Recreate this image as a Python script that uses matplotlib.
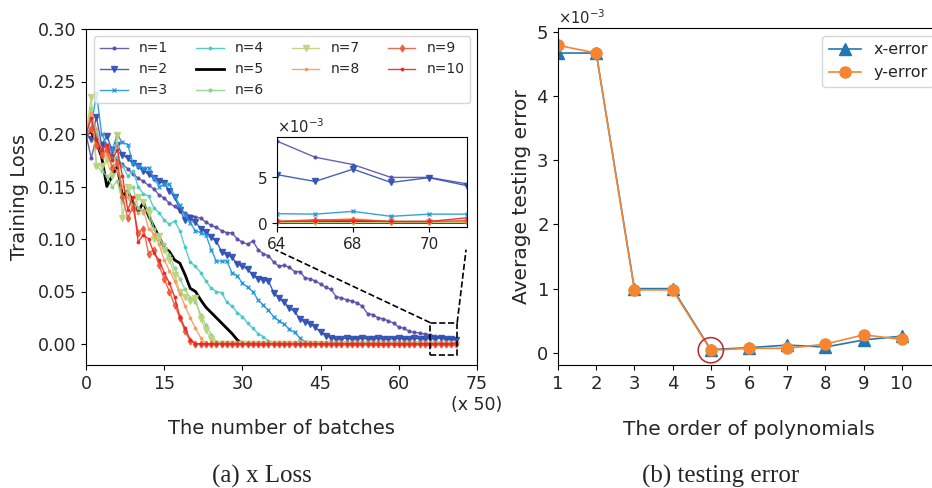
import numpy as np
import matplotlib
matplotlib.use('Agg')
import matplotlib.pyplot as plt
from matplotlib.patches import Rectangle
from matplotlib.transforms import blended_transform_factory

# ---- (a) training loss, one point per 50 batches ----
loss_n1 = [0.200, 0.177, 0.197, 0.190, 0.185, 0.180, 0.175, 0.171, 0.167, 0.162, 0.158, 0.155,
           0.151, 0.148, 0.142, 0.139, 0.134, 0.131, 0.127, 0.125, 0.122, 0.121, 0.120, 0.116,
           0.113, 0.111, 0.108, 0.106, 0.106, 0.100, 0.097, 0.095, 0.098, 0.090, 0.086, 0.084,
           0.078, 0.074, 0.075, 0.073, 0.069, 0.069, 0.063, 0.062, 0.060, 0.057, 0.054, 0.052,
           0.045, 0.044, 0.042, 0.041, 0.039, 0.036, 0.029, 0.028, 0.025, 0.024, 0.022, 0.020,
           0.016, 0.015, 0.012, 0.011, 0.0105, 0.0095, 0.00895, 0.0072, 0.0064, 0.0050, 0.0050, 0.0043]
loss_n2 = [0.200, 0.195, 0.216, 0.190, 0.198, 0.185, 0.190, 0.180, 0.177, 0.172, 0.170, 0.165,
           0.162, 0.158, 0.155, 0.153, 0.146, 0.140, 0.128, 0.118, 0.120, 0.116, 0.110, 0.107,
           0.102, 0.098, 0.088, 0.085, 0.083, 0.076, 0.074, 0.071, 0.066, 0.062, 0.061, 0.060,
           0.049, 0.044, 0.040, 0.034, 0.031, 0.024, 0.021, 0.019, 0.016, 0.011, 0.008, 0.006,
           0.0045, 0.0050, 0.0055, 0.0048, 0.0052, 0.0056, 0.0047, 0.0050, 0.0053, 0.0049, 0.0045, 0.0052,
           0.0055, 0.0050, 0.0048, 0.0054, 0.0050, 0.0049, 0.0053, 0.00456, 0.0059, 0.00445, 0.00497, 0.0041]
loss_n3 = [0.200, 0.205, 0.239, 0.200, 0.190, 0.185, 0.199, 0.192, 0.190, 0.172, 0.170, 0.168,
           0.168, 0.158, 0.150, 0.152, 0.152, 0.141, 0.132, 0.123, 0.115, 0.108, 0.106, 0.104,
           0.090, 0.079, 0.079, 0.079, 0.068, 0.065, 0.058, 0.054, 0.050, 0.042, 0.037, 0.032,
           0.026, 0.022, 0.019, 0.014, 0.011, 0.006, 0.002, 0.0012, 0.0011, 0.0010, 0.0011, 0.0009,
           0.0010, 0.0011, 0.0010, 0.0009, 0.0010, 0.0011, 0.0010, 0.0010, 0.0009, 0.0011, 0.0010, 0.0010,
           0.0011, 0.0009, 0.0010, 0.0011, 0.0010, 0.0010, 0.00105, 0.0010, 0.0013, 0.00076, 0.0010, 0.0010]
loss_n4 = [0.200, 0.215, 0.200, 0.185, 0.190, 0.175, 0.178, 0.170, 0.160, 0.165, 0.150, 0.143,
           0.141, 0.130, 0.125, 0.118, 0.114, 0.117, 0.108, 0.092, 0.078, 0.074, 0.068, 0.060,
           0.053, 0.050, 0.049, 0.040, 0.036, 0.030, 0.026, 0.020, 0.015, 0.010, 0.007, 0.003,
           0.0010, 0.0003, 0.0002, 0.0002, 0.0002, 0.0002, 0.0002, 0.0002, 0.0002, 0.0002, 0.0002, 0.0002,
           0.0002, 0.0002, 0.0002, 0.0002, 0.0002, 0.0002, 0.0002, 0.0002, 0.0002, 0.0002, 0.0002, 0.0002,
           0.0002, 0.0002, 0.0002, 0.0002, 0.0002, 0.0002, 0.0002, 0.0002, 0.0002, 0.0002, 0.0002, 0.0002]
loss_n5 = [0.200, 0.202, 0.192, 0.178, 0.150, 0.160, 0.169, 0.141, 0.146, 0.135, 0.126, 0.135,
           0.122, 0.112, 0.102, 0.092, 0.088, 0.080, 0.077, 0.066, 0.053, 0.050, 0.042, 0.035,
           0.030, 0.025, 0.020, 0.015, 0.010, 0.004, 0.0002, 0.0001, 0.0001, 0.0001, 0.0001, 0.0001,
           0.0001, 0.0001, 0.0001, 0.0001, 0.0001, 0.0001, 0.0001, 0.0001, 0.0001, 0.0001, 0.0001, 0.0001,
           0.0001, 0.0001, 0.0001, 0.0001, 0.0001, 0.0001, 0.0001, 0.0001, 0.0001, 0.0001, 0.0001, 0.0001,
           0.0001, 0.0001, 0.0001, 0.0001, 0.0001, 0.0001, 0.0001, 0.0001, 0.0001, 0.0001, 0.0001, 0.0001]
loss_n6 = [0.200, 0.225, 0.170, 0.165, 0.160, 0.150, 0.155, 0.135, 0.145, 0.150, 0.130, 0.125,
           0.130, 0.110, 0.100, 0.095, 0.085, 0.072, 0.062, 0.052, 0.044, 0.040, 0.028, 0.018,
           0.009, 0.002, 0.0001, 0.0001, 0.0001, 0.0001, 0.0001, 0.0001, 0.0001, 0.0001, 0.0001, 0.0001,
           0.0001, 0.0001, 0.0001, 0.0001, 0.0001, 0.0001, 0.0001, 0.0001, 0.0001, 0.0001, 0.0001, 0.0001,
           0.0001, 0.0001, 0.0001, 0.0001, 0.0001, 0.0001, 0.0001, 0.0001, 0.0001, 0.0001, 0.0001, 0.0001,
           0.0001, 0.0001, 0.0001, 0.0001, 0.0001, 0.0001, 0.0001, 0.0001, 0.0001, 0.0001, 0.0001, 0.0001]
loss_n7 = [0.200, 0.235, 0.170, 0.170, 0.175, 0.160, 0.199, 0.120, 0.150, 0.130, 0.140, 0.135,
           0.125, 0.100, 0.103, 0.090, 0.080, 0.066, 0.050, 0.045, 0.041, 0.044, 0.024, 0.013,
           0.005, 0.0001, 0.0001, 0.0001, 0.0001, 0.0001, 0.0001, 0.0001, 0.0001, 0.0001, 0.0001, 0.0001,
           0.0001, 0.0001, 0.0001, 0.0001, 0.0001, 0.0001, 0.0001, 0.0001, 0.0001, 0.0001, 0.0001, 0.0001,
           0.0001, 0.0001, 0.0001, 0.0001, 0.0001, 0.0001, 0.0001, 0.0001, 0.0001, 0.0001, 0.0001, 0.0001,
           0.0001, 0.0001, 0.0001, 0.0001, 0.0001, 0.0001, 0.0001, 0.0001, 0.0001, 0.0001, 0.0001, 0.0001]
loss_n8 = [0.200, 0.220, 0.205, 0.185, 0.180, 0.170, 0.165, 0.150, 0.140, 0.130, 0.125, 0.128,
           0.110, 0.105, 0.095, 0.080, 0.070, 0.060, 0.048, 0.036, 0.025, 0.015, 0.006, 0.0003,
           0.0002, 0.0002, 0.0002, 0.0002, 0.0002, 0.0002, 0.0002, 0.0002, 0.0002, 0.0002, 0.0002, 0.0002,
           0.0002, 0.0002, 0.0002, 0.0002, 0.0002, 0.0002, 0.0002, 0.0002, 0.0002, 0.0002, 0.0002, 0.0002,
           0.0002, 0.0002, 0.0002, 0.0002, 0.0002, 0.0002, 0.0002, 0.0002, 0.0002, 0.0002, 0.0002, 0.0002,
           0.0002, 0.0002, 0.0002, 0.0002, 0.0002, 0.0002, 0.0002, 0.0003, 0.0005, 0.0002, 0.0002, 0.0002]
loss_n9 = [0.200, 0.205, 0.190, 0.180, 0.185, 0.168, 0.172, 0.140, 0.120, 0.130, 0.106, 0.110,
           0.086, 0.090, 0.075, 0.062, 0.050, 0.037, 0.025, 0.012, 0.003, 0.0003, 0.0003, 0.0003,
           0.0003, 0.0003, 0.0003, 0.0003, 0.0003, 0.0003, 0.0003, 0.0003, 0.0003, 0.0003, 0.0003, 0.0003,
           0.0003, 0.0003, 0.0003, 0.0003, 0.0003, 0.0003, 0.0003, 0.0003, 0.0003, 0.0003, 0.0003, 0.0003,
           0.0003, 0.0003, 0.0003, 0.0003, 0.0003, 0.0003, 0.0003, 0.0003, 0.0003, 0.0003, 0.0003, 0.0003,
           0.0003, 0.0003, 0.0003, 0.0003, 0.0003, 0.0003, 0.0002, 0.0004, 0.0004, 0.0002, 0.0002, 0.0003]
loss_n10 = [0.200, 0.215, 0.195, 0.185, 0.190, 0.175, 0.185, 0.160, 0.128, 0.140, 0.097, 0.104,
            0.100, 0.087, 0.080, 0.068, 0.058, 0.045, 0.026, 0.015, 0.004, 0.0002, 0.0002, 0.0002,
            0.0002, 0.0002, 0.0002, 0.0002, 0.0002, 0.0002, 0.0002, 0.0002, 0.0002, 0.0002, 0.0002, 0.0002,
            0.0002, 0.0002, 0.0002, 0.0002, 0.0002, 0.0002, 0.0002, 0.0002, 0.0002, 0.0002, 0.0002, 0.0002,
            0.0002, 0.0002, 0.0002, 0.0002, 0.0002, 0.0002, 0.0002, 0.0002, 0.0002, 0.0002, 0.0002, 0.0002,
            0.0002, 0.0002, 0.0002, 0.0002, 0.0002, 0.0002, 0.0002, 0.00025, 0.0003, 0.0002, 0.0002, 0.0006]

loss_series = [loss_n1, loss_n2, loss_n3, loss_n4, loss_n5,
               loss_n6, loss_n7, loss_n8, loss_n9, loss_n10]
loss_labels = ['n=%d' % k for k in range(1, 11)]
loss_x_ticks = [0, 15, 30, 45, 60, 75]

# inset (zoomed tail)
inset_xlim = (66, 71)
inset_xticks = [66, 68, 70]
inset_xticklabels = ['64', '68', '70']

# ---- (b) testing error vs polynomial order ----
orders = [1, 2, 3, 4, 5, 6, 7, 8, 9, 10]
x_error = [4.67e-3, 4.67e-3, 1.00e-3, 1.00e-3, 0.05e-3, 0.08e-3, 0.12e-3, 0.09e-3, 0.20e-3, 0.26e-3]
y_error = [4.79e-3, 4.67e-3, 0.98e-3, 0.98e-3, 0.04e-3, 0.07e-3, 0.07e-3, 0.135e-3, 0.28e-3, 0.21e-3]
best_order = 5

# ---- styles ----
colors = ['#5b4ea8', '#2f50b4', '#1e96dc', '#45c8c8', 'black',
          '#8fd18f', '#bcd47a', '#f79a5e', '#ef5a3a', '#ec2424']
markers = ['.', 'v', 'x', '.', None, '.', 'v', '.', 'd', '.']
msizes = [4, 4.5, 3, 3.5, 0, 4, 4.5, 3.5, 3.5, 3.5]

plt.rcParams['font.family'] = ['DejaVu Sans']
plt.rcParams['text.color'] = '#262626'
plt.rcParams['axes.labelcolor'] = '#262626'
plt.rcParams['xtick.labelcolor'] = '#262626'
plt.rcParams['ytick.labelcolor'] = '#262626'

fig = plt.figure(figsize=(9.32, 4.88), dpi=100)
W, H = 932.0, 488.0
ax1 = fig.add_axes([86 / W, 123 / H, 391 / W, 336 / H])
ax2 = fig.add_axes([558 / W, 123 / H, 382 / W, 337 / H])
axin = fig.add_axes([277 / W, 261 / H, 190 / W, 90 / H])


def draw_losses(ax):
    for k, ys in enumerate(loss_series):
        xs = np.arange(len(ys))
        if k == 4:
            ax.plot(xs, ys, color='black', linewidth=2.0, label=loss_labels[k])
        else:
            ax.plot(xs, ys, color=colors[k], linewidth=1.0, alpha=0.9,
                    marker=markers[k], markersize=msizes[k], label=loss_labels[k])


draw_losses(ax1)
ax1.set_xlim(0, 75)
ax1.set_ylim(-0.02, 0.30)
ax1.set_xticks(loss_x_ticks)
ax1.set_yticks([0.0, 0.05, 0.10, 0.15, 0.20, 0.25, 0.30])
ax1.tick_params(labelsize=12.5)
ax1.set_ylabel('Training Loss', fontsize=14)
ax1.yaxis.set_label_coords(-0.145, 0.5)
ax1.set_xlabel('The number of batches', fontsize=14)
ax1.xaxis.set_label_coords(0.5, -0.16)
trans = blended_transform_factory(ax1.transData, ax1.transAxes)
ax1.text(75, -0.119, '(x 50)', transform=trans, ha='center', va='center', fontsize=12.5)
ax1.legend(ncol=4, loc='upper right', fontsize=10, handlelength=2.0)

# zoom box and connectors
ax1.add_patch(Rectangle((66, -0.0105), 5.2, 0.0309, fill=False, edgecolor='black',
                        linestyle='--', linewidth=1.2, zorder=6))
ax1.plot([66, 36.3], [0.0204, 0.0898], color='black', linestyle='--', linewidth=1.2, zorder=6)
ax1.plot([71.2, 72.9], [0.0204, 0.0898], color='black', linestyle='--', linewidth=1.2, zorder=6)

draw_losses(axin)
axin.set_xlim(*inset_xlim)
axin.set_ylim(-0.0004, 0.0094)
axin.set_xticks(inset_xticks)
axin.set_xticklabels(inset_xticklabels)
axin.set_yticks([0, 0.005])
axin.ticklabel_format(axis='y', style='sci', scilimits=(0, 0), useMathText=True)
axin.tick_params(labelsize=11)
axin.yaxis.get_offset_text().set_fontsize(10.5)

# (b)
ax2.plot(orders, x_error, color='#1f77b4', marker='^', markersize=8, linewidth=1.2, label='x-error')
ax2.plot(orders, y_error, color='#f5862f', marker='o', markersize=8, linewidth=1.2, label='y-error')
ax2.scatter([best_order], [y_error[orders.index(best_order)]], s=330, facecolors='none',
            edgecolors='#b8272c', linewidths=1.1, zorder=5)
ax2.set_xlim(1, 11)
ax2.set_ylim(-0.00019, 0.00506)
ax2.set_xticks(orders)
ax2.set_yticks([0, 0.001, 0.002, 0.003, 0.004, 0.005])
ax2.ticklabel_format(axis='y', style='sci', scilimits=(0, 0), useMathText=True)
ax2.tick_params(labelsize=13)
ax2.yaxis.get_offset_text().set_fontsize(10.5)
ax2.set_ylabel('Average testing error', fontsize=14.5)
ax2.yaxis.set_label_coords(-0.07, 0.5)
ax2.set_xlabel('The order of polynomials', fontsize=14.5)
ax2.xaxis.set_label_coords(0.5, -0.163)
ax2.legend(loc='upper right', bbox_to_anchor=(1.006, 1.0), fontsize=11.5)

# captions
fig.text(262 / W, 1 - 476 / H, '(a) x Loss', family='Liberation Serif', fontsize=18,
         ha='center', va='center')
fig.text(721 / W, 1 - 476 / H, '(b) testing error', family='Liberation Serif', fontsize=18,
         ha='center', va='center')

fig.savefig('out.png', dpi=100)
